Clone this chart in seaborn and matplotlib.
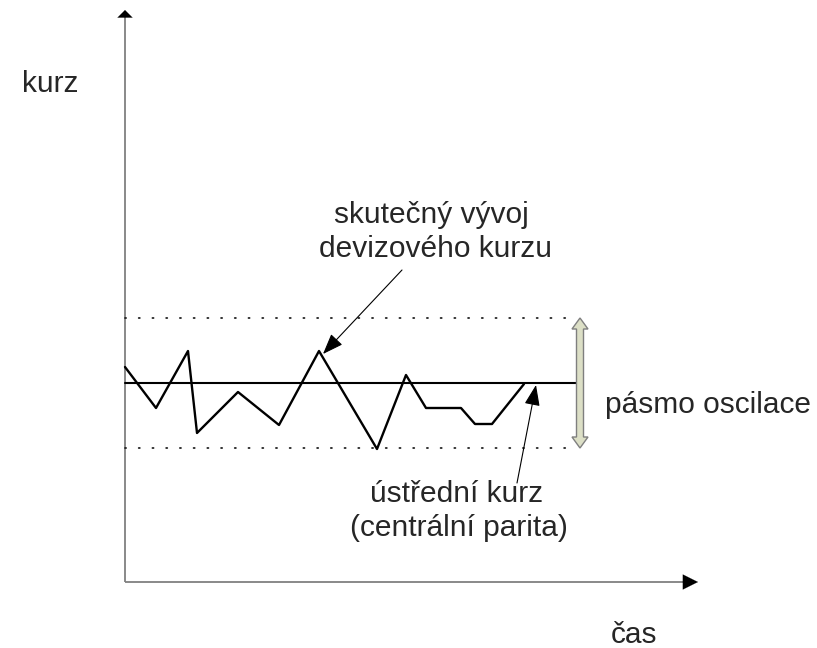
import matplotlib
matplotlib.use("Agg")
import matplotlib.pyplot as plt
from matplotlib.patches import Polygon
import numpy as np
import pandas as pd
import seaborn as sns

# Time points and observed exchange rate (arbitrary units)
time = [0, 31, 63, 72, 113, 154, 194, 252, 281, 301, 336, 350, 367, 399]
rate = [215, 174, 231, 149, 190, 157, 231, 133, 207, 174, 174, 158, 158, 198]

# Central parity and the half-width of the fluctuation band
parity = 199
band = 65
band_end = 445      # time where the band lines stop
parity_end = 455    # time where the parity line stops (at the band arrow)

axis_x_end = 573
axis_y_end = 572

sns.set_theme(style="white")
plt.rcParams["font.family"] = ["Liberation Sans", "DejaVu Sans"]

fig = plt.figure(figsize=(8.17, 6.48), dpi=100)
ax = fig.add_axes([0, 0, 1, 1])
ax.set_xlim(-125, 692)
ax.set_ylim(-66, 582)
ax.axis("off")

# Axes with arrow heads
axis_color = "#808080"
ax.plot([0, axis_x_end - 10], [0, 0], color=axis_color, lw=1.3, solid_capstyle="butt")
ax.plot([0, 0], [0, axis_y_end - 5], color=axis_color, lw=1.3, solid_capstyle="butt")
head_x = dict(arrowstyle="-|>,head_length=0.72,head_width=0.36", color="black",
              lw=0.1, shrinkA=0, shrinkB=0, mutation_scale=15)
head_y = dict(arrowstyle="-|>,head_length=0.36,head_width=0.36", color="black",
              lw=0.1, shrinkA=0, shrinkB=0, mutation_scale=15)
ax.annotate("", xy=(axis_x_end, 0), xytext=(axis_x_end - 16, 0), arrowprops=head_x)
ax.annotate("", xy=(0, axis_y_end), xytext=(0, axis_y_end - 8), arrowprops=head_y)

# Fluctuation band (dotted)
for lvl in (parity + band, parity - band):
    ax.plot([0, band_end], [lvl, lvl], color="#222222", lw=1.3,
            linestyle=(0, (0.6, 7)), dash_capstyle="round")

# Central parity
ax.plot([0, parity_end], [parity, parity], color="black", lw=1.5)

# Actual exchange-rate path
df = pd.DataFrame({"time": time, "rate": rate})
sns.lineplot(data=df, x="time", y="rate", sort=False, color="black", lw=1.7,
             ax=ax, legend=False)
ax.set_xlim(-125, 692)
ax.set_ylim(-66, 582)

# Double-headed band arrow
xc = parity_end
top, bot = parity + band, parity - band
bw, hw, hl = 3.5, 8, 11
pts = [(xc, top), (xc + hw, top - hl), (xc + bw, top - hl), (xc + bw, bot + hl),
       (xc + hw, bot + hl), (xc, bot), (xc - hw, bot + hl), (xc - bw, bot + hl),
       (xc - bw, top - hl), (xc - hw, top - hl)]
ax.add_patch(Polygon(pts, closed=True, facecolor="#dcdfc6", edgecolor="#7f7f7f",
                     lw=1.0, zorder=5))

# Annotation arrows
ann = dict(arrowstyle="-|>,head_length=0.8,head_width=0.3", color="black",
           lw=0.8, shrinkA=0, shrinkB=0, mutation_scale=16)
ax.annotate("", xy=(time[6] + 4, rate[6] - 3), xytext=(277, 312), arrowprops=ann)
ax.annotate("", xy=(411, parity - 2), xytext=(392, 99), arrowprops=ann)

fs = 21.5
ax.text(-103, 490, "kurz", fontsize=fs, ha="left", va="baseline")
ax.text(306, 359, "skutečný vývoj", fontsize=fs, ha="center", va="baseline")
ax.text(311, 325, "devizového kurzu", fontsize=fs, ha="center", va="baseline")
ax.text(480, 169, "pásmo oscilace", fontsize=fs, ha="left", va="baseline")
ax.text(332, 80, "ústřední kurz", fontsize=fs, ha="center", va="baseline")
ax.text(334, 46, "(centrální parita)", fontsize=fs, ha="center", va="baseline")
ax.text(486, -61, "čas", fontsize=fs, ha="left", va="baseline")

fig.savefig("out.png", dpi=100)
